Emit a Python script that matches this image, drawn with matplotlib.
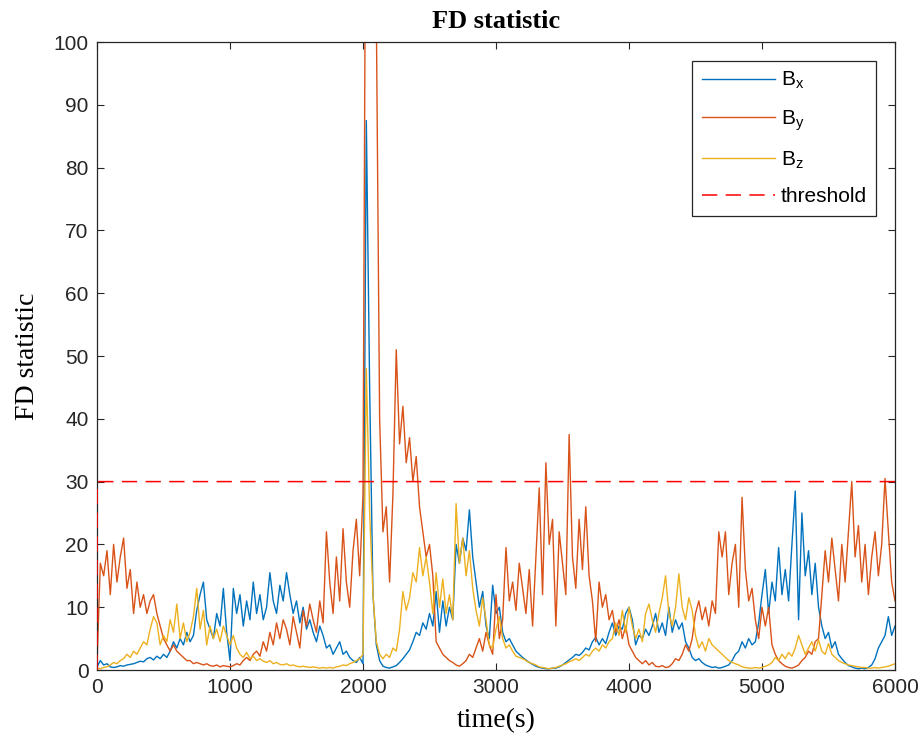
import numpy as np
import matplotlib
matplotlib.use('Agg')
import matplotlib.pyplot as plt

# FD statistic, one value every 25 s from 0 to 6000 s
t = np.arange(0, 6001, 25)

bx = [0.5, 1.5, 0.8, 1.0, 0.5, 0.4, 0.5, 0.7, 0.6, 0.8, 0.9, 1.0, 1.2, 1.4, 1.3, 1.8, 2.0, 1.6, 2.2, 1.8,
      2.5, 2.0, 3.0, 4.5, 3.5, 5.0, 4.0, 6.0, 4.5, 5.5, 9.5, 12.0, 14.0, 8.0, 6.5, 5.0, 9.0, 7.0, 13.0, 6.0,
      1.5, 13, 9, 12, 7, 11, 8, 14, 9, 12, 8, 10, 15.5, 11, 9, 13.5, 11, 15.5, 12, 9,
      11, 7.5, 10, 6.5, 8, 6, 4.5, 7, 5.5, 3.5, 4, 2.5, 3.5, 4.5, 2.5, 3.0, 2.0, 1.5, 1.2, 2.0,
      1.0, 87.5, 45, 12, 4, 1.5, 0.6, 0.4, 0.3, 0.5, 0.7, 1.2, 1.8, 2.5, 3.2, 4.5, 6.0, 5.5, 7.5, 6.5,
      9.0, 7.0, 12.5, 6.0, 11.0, 7.0, 10.0, 8.0, 20.0, 17.0, 21.0, 19.0, 25.5, 18.0, 14.0, 10.0, 12.5, 7.0, 5.0, 13.5,
      9, 10, 6, 4.5, 5, 4, 3, 2.5, 2, 1.6, 1.2, 0.9, 0.6, 0.4, 0.3, 0.2, 0.2, 0.3, 0.3, 0.5,
      0.8, 1.2, 1.6, 2.0, 2.5, 2.3, 2.8, 3.5, 3.2, 4.5, 5.2, 4, 5, 4.2, 6, 7.5, 5.5, 7, 6.5, 9,
      10, 8, 4, 5.5, 5, 6.5, 5.5, 7, 9, 6, 7.5, 5.5, 10, 6, 8, 6.5, 7.5, 4.5, 3.5, 2.0,
      1.5, 1.8, 1.2, 0.8, 0.6, 0.4, 0.5, 0.3, 0.4, 0.6, 0.8, 1.5, 2.5, 3.0, 4.5, 3.5, 5.0, 4.0, 4.5, 7.5,
      12, 16, 9, 14, 11, 19.5, 12, 16, 11, 20, 28.5, 8, 25, 15, 19, 12, 17, 10, 7, 5,
      6, 3.5, 4.5, 2.5, 1.8, 1.2, 0.7, 0.5, 0.3, 0.2, 0.3, 0.2, 0.4, 0.8, 1.8, 3.5, 4.5, 5.5, 8.5, 5.5,
      7.0]

by = [1.0, 17, 15, 19, 12, 20, 14, 18, 21, 13, 16, 9, 14, 10, 12, 9, 11, 12, 9, 7,
      5, 4, 3, 4, 3, 2.5, 2, 1.5, 1.5, 1, 1.2, 1, 0.8, 1.0, 0.7, 0.6, 0.8, 0.5, 0.7, 0.6,
      0.5, 0.7, 1.0, 0.8, 1.5, 2.0, 1.5, 2.5, 3.0, 2.2, 4.5, 3.0, 6.0, 4.0, 7.5, 5.0, 8.0, 6.5, 4.0, 8.5,
      6.0, 3.5, 9.5, 7.0, 10.5, 8.0, 6.0, 11.0, 7.5, 22.0, 14.0, 9.0, 18.0, 11.0, 22.5, 14.0, 10.0, 19.0, 24.0, 15.0,
      28, 150, 180, 160, 105, 40, 22, 26, 14, 28, 51, 36, 42, 33, 37, 30, 34, 26, 22, 18,
      20, 15, 4.5, 3.5, 2.5, 2, 1.5, 1.2, 0.8, 0.6, 1.0, 1.5, 2.5, 2.0, 3.5, 5.0, 3.0, 6.0, 4.0, 2.5,
      12, 5, 8, 19.5, 11, 14, 9.5, 17, 13, 9, 16, 7, 18, 29, 12, 33, 20, 24, 7, 22,
      17, 12, 37.5, 18, 13, 24, 16, 26, 15, 11, 4.5, 14, 10, 12, 8, 9.5, 6, 8, 5, 7,
      4, 3, 2, 1.5, 1.0, 1.5, 0.8, 1.2, 0.6, 0.5, 0.7, 0.4, 0.5, 1.0, 1.8, 1.5, 2.5, 4.0, 3.0, 5,
      9, 11, 8, 10, 7, 11, 9, 22, 18, 22, 12, 17, 20, 10, 27.5, 16, 11, 13, 8, 5,
      10, 7, 10, 4, 2.5, 1.5, 1.0, 0.6, 0.4, 0.3, 0.5, 0.8, 1.5, 2.0, 3.0, 2.5, 4.5, 5, 12, 19,
      14, 21, 16, 11, 20, 14, 22, 30, 18, 23, 14, 20, 12, 18, 22, 15, 20, 30.5, 22, 14,
      11]

bz = [0.3, 0.2, 0.4, 0.5, 0.8, 1.2, 1.0, 1.5, 1.8, 2.5, 2.0, 3.0, 2.5, 3.5, 4.5, 4.0, 6.5, 8.5, 7.5, 4.0,
      5.5, 4.5, 8.0, 6.0, 10.5, 5.0, 7.5, 4.5, 6.0, 8.5, 13.0, 6.5, 9.5, 4.0, 7.0, 5.0, 6.5, 4.5, 7.0, 5.5,
      4.0, 5.5, 3.5, 2.5, 2.0, 2.8, 1.8, 2.2, 1.5, 1.8, 1.4, 1.2, 1.5, 1.0, 1.2, 0.9, 0.8, 1.0, 0.7, 0.8,
      0.6, 0.5, 0.6, 0.5, 0.4, 0.5, 0.4, 0.3, 0.4, 0.3, 0.4, 0.3, 0.5, 0.6, 0.8, 0.7, 1.0, 1.2, 1.5, 1.8,
      2.5, 48, 25, 12, 4.5, 2.5, 1.8, 2.5, 2.0, 3.5, 3.0, 6.5, 12.5, 9.5, 11.5, 15.5, 14.0, 19.5, 15.0, 18.0,
      14.0, 9.0, 15.5, 10.0, 14.5, 9.0, 12.0, 8.0, 26.5, 17.0, 21.0, 15.0, 19.0, 13.0, 9.5, 7.0, 11.5, 8.0, 4.0, 3.5,
      6.5, 8.5, 5.0, 3.5, 4.0, 3.0, 2.2, 2.0, 1.8, 1.5, 1.2, 1.0, 0.8, 0.5, 0.4, 0.3, 0.2, 0.3, 0.4, 0.6,
      0.8, 1.0, 1.3, 1.5, 1.8, 1.5, 2.0, 2.5, 2.2, 3.0, 3.5, 3.0, 4.0, 3.5, 4.5, 5.0, 7.5, 5.5, 9.5, 6.0,
      10, 7, 5, 6.5, 4.5, 9, 10.5, 8, 6, 9, 11.5, 15, 9, 7, 10, 15.3, 10, 8, 11.5, 9.5,
      5.5, 3.5, 4.5, 3.0, 5.0, 4.0, 3.5, 3.0, 2.5, 2.0, 1.5, 1.2, 1.0, 0.8, 0.5, 0.4, 0.3, 0.3, 0.4, 0.3,
      0.4, 0.6, 0.8, 1.2, 2.0, 1.5, 2.5, 1.8, 2.8, 2.2, 3.5, 5.5, 4.0, 2.5, 3.5, 4.5, 3.0, 4.8, 3.0, 2.5,
      4.2, 2.5, 2.0, 1.5, 1.2, 1.0, 0.8, 0.7, 0.6, 0.5, 0.4, 0.4, 0.3, 0.3, 0.4, 0.3, 0.4, 0.5, 0.6, 0.8,
      1.0]

thr_t = [0, 1, 6000]
thr_v = [0, 30, 30]

assert len(bx) == len(by) == len(bz) == len(t)

plt.rcParams['font.family'] = ['Liberation Sans', 'DejaVu Sans']
plt.rcParams['mathtext.default'] = 'regular'

fig = plt.figure(figsize=(9.22, 7.44), dpi=100)
ax = fig.add_axes([97 / 922, 74 / 744, 798 / 922, 628 / 744])

ax.plot(t, bx, color='#0072BD', lw=1.0, label='B$_x$')
ax.plot(t, by, color='#D95319', lw=1.0, label='B$_y$')
ax.plot(t, bz, color='#EDB120', lw=1.0, label='B$_z$')
ax.plot(thr_t, thr_v, color='#FF0000', lw=1.1, dashes=(10, 5.5), label='threshold', zorder=3)

ax.set_xlim(0, 6000)
ax.set_ylim(0, 100)
ax.set_xticks(range(0, 6001, 1000))
ax.set_yticks(range(0, 101, 10))
ax.tick_params(direction='in', top=True, right=True, length=5, width=0.8,
               labelsize=15, colors='#262626', pad=6)
for s in ax.spines.values():
    s.set_color('#262626')
    s.set_linewidth(0.9)

serif = ['Liberation Serif', 'DejaVu Serif']
ax.set_title('FD statistic', family=serif, fontweight='bold', fontsize=19, pad=10)
ax.set_xlabel('time(s)', family=serif, fontsize=20, labelpad=8)
ax.set_ylabel('FD statistic', family=serif, fontsize=20, labelpad=10)

leg = ax.legend(loc='upper right', fontsize=15, handlelength=3.5, handletextpad=0.3,
                borderaxespad=0.9, borderpad=0.45, labelspacing=0.8, fancybox=False,
                framealpha=1, edgecolor='#262626')
leg.get_frame().set_linewidth(0.9)

plt.savefig('out.png', dpi=100)
plt.close()
